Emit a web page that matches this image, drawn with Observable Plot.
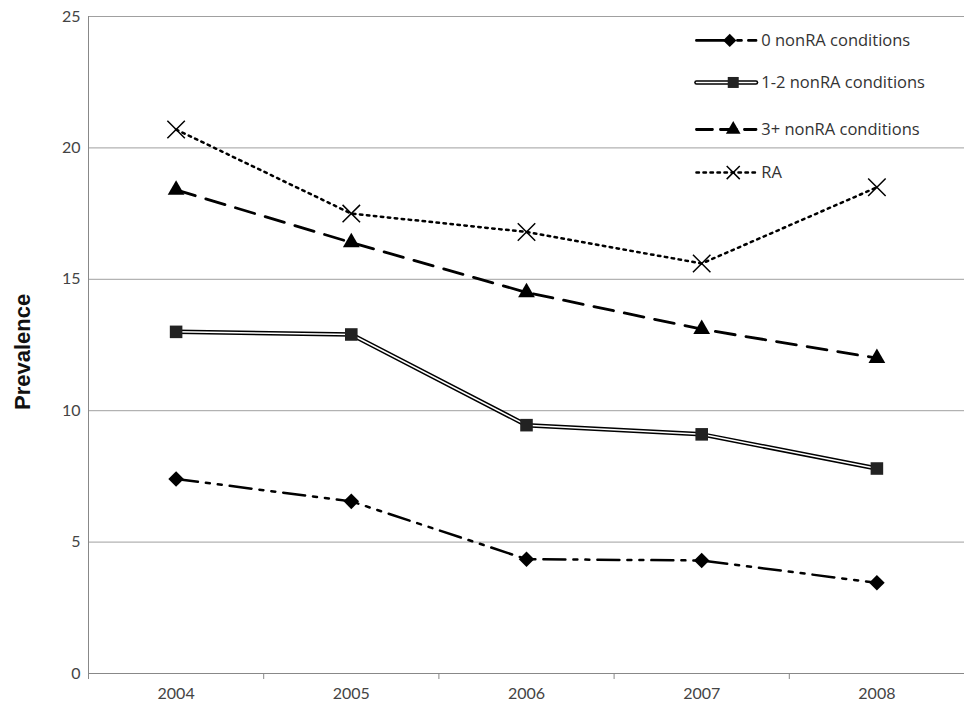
<!DOCTYPE html>
<html><head>
<script src="https://cdn.jsdelivr.net/npm/d3@7"></script>
<script src="https://cdn.jsdelivr.net/npm/@observablehq/plot@0.6"></script>
<style>body{margin:0;background:#fff}</style>
</head><body><div id="c"></div>
<script>
const years = [2004, 2005, 2006, 2007, 2008];
const s0 = [7.4, 6.55, 4.35, 4.3, 3.45];
const s12 = [13.0, 12.9, 9.45, 9.1, 7.8];
const s3 = [18.4, 16.4, 14.5, 13.1, 12.0];
const ra = [20.7, 17.5, 16.8, 15.6, 18.5];
const names = ["0 nonRA conditions", "1-2 nonRA conditions", "3+ nonRA conditions", "RA"];
const yTicks = [0, 5, 10, 15, 20, 25];
const bounds = [2003.5, 2004.5, 2005.5, 2006.5, 2007.5, 2008.5];

const mk = v => years.map((y, i) => ({x: y, y: v[i]}));
const d0 = mk(s0), d12 = mk(s12), d3s = mk(s3), dra = mk(ra);

const legY = [24.09, 22.49, 20.7, 19.06];
const legX0 = 2006.97, legX1 = 2007.31, legXm = 2007.18;
const leg = i => [{x: legX0, y: legY[i]}, {x: legX1, y: legY[i]}];

const chart = Plot.plot({
  width: 964, height: 715,
  marginTop: 16, marginBottom: 42, marginLeft: 88, marginRight: 0,
  style: {fontFamily: "Lato, sans-serif", fontSize: "16px", color: "#444"},
  x: {domain: [2003.5, 2008.5], label: null},
  y: {domain: [0, 25], label: null},
  marks: [
    Plot.axisX(years, {tickSize: 0, tickPadding: 14, tickFormat: "d", label: null}),
    Plot.axisX(bounds, {tickSize: 6, tickFormat: () => "", stroke: "#888", label: null}),
    Plot.axisY(yTicks, {tickSize: 0, tickPadding: 8, label: null}),
    Plot.ruleY(yTicks.slice(1), {stroke: "#888", strokeWidth: 0.8}),
    Plot.ruleY([0], {stroke: "#888"}),
    Plot.ruleX([2003.5], {stroke: "#888"}),
    Plot.line(d0, {x: "x", y: "y", stroke: "black", strokeWidth: 2.5, strokeDasharray: "22,8,4,8,4,8"}),
    Plot.dot(d0, {x: "x", y: "y", symbol: "diamond2", r: 7, fill: "black"}),
    Plot.line(d12, {x: "x", y: "y", stroke: "black", strokeWidth: 4.5}),
    Plot.line(d12, {x: "x", y: "y", stroke: "white", strokeWidth: 1.5}),
    Plot.dot(d12, {x: "x", y: "y", symbol: "square2", r: 8, fill: "#222"}),
    Plot.line(d3s, {x: "x", y: "y", stroke: "black", strokeWidth: 2.8, strokeDasharray: "20,11"}),
    Plot.dot(d3s, {x: "x", y: "y", symbol: "triangle2", r: 8, fill: "black"}),
    Plot.line(dra, {x: "x", y: "y", stroke: "black", strokeWidth: 2.5, strokeDasharray: "2.5,4.5"}),
    Plot.dot(dra, {x: "x", y: "y", symbol: "times", r: 8, stroke: "black", strokeWidth: 1.5}),
    Plot.line(leg(0), {x: "x", y: "y", stroke: "black", strokeWidth: 2.8, strokeDasharray: "34,7,4,7"}),
    Plot.dot([{x: legXm - 0.02, y: legY[0]}], {x: "x", y: "y", symbol: "diamond2", r: 6, fill: "black"}),
    Plot.line(leg(1), {x: "x", y: "y", stroke: "black", strokeWidth: 4.5}),
    Plot.line(leg(1), {x: "x", y: "y", stroke: "white", strokeWidth: 1.5}),
    Plot.dot([{x: legXm, y: legY[1]}], {x: "x", y: "y", symbol: "square2", r: 7, fill: "#222"}),
    Plot.line(leg(2), {x: "x", y: "y", stroke: "black", strokeWidth: 2.8, strokeDasharray: "16,8"}),
    Plot.dot([{x: legXm, y: legY[2]}], {x: "x", y: "y", symbol: "triangle2", r: 7, fill: "black"}),
    Plot.line(leg(3), {x: "x", y: "y", stroke: "black", strokeWidth: 2.5, strokeDasharray: "2.5,4.5"}),
    Plot.dot([{x: legXm, y: legY[3]}], {x: "x", y: "y", symbol: "times", r: 6, stroke: "black", strokeWidth: 1.5}),
    Plot.text(names, {x: 2007.34, y: (d, i) => legY[i], text: d => d, textAnchor: "start", fontSize: 16.5, fontFamily: "Open Sans, sans-serif", fill: "#333"}),
    Plot.text(["Prevalence"], {frameAnchor: "left", dx: -66, dy: 65, rotate: -90, fontSize: 22, fontWeight: "bold", fontFamily: "Liberation Sans, Arial, sans-serif", fill: "#111"})
  ]
});
document.getElementById("c").appendChild(chart);
</script></body></html>
